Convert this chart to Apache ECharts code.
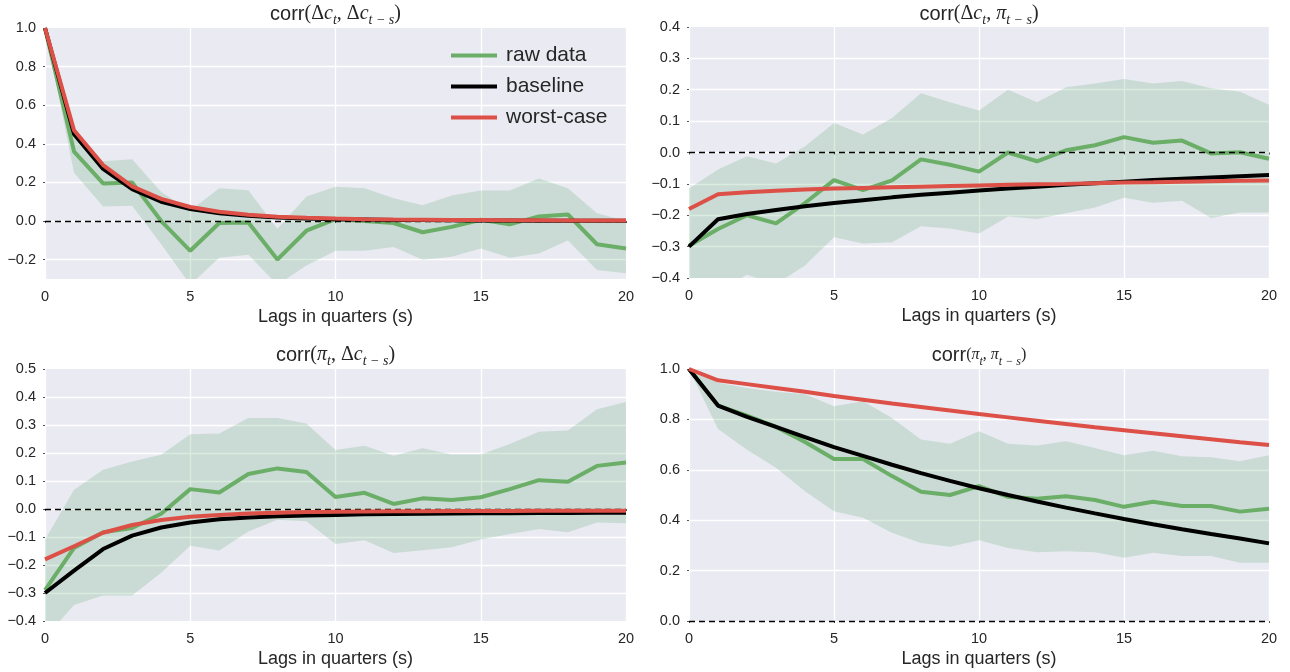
<!DOCTYPE html>
<html>
<head>
<meta charset="utf-8">
<script src="https://cdn.jsdelivr.net/npm/echarts@6/dist/echarts.min.js"></script>
<style>
html,body{margin:0;padding:0;background:#fff;}
#chart{width:1290px;height:672px;}
</style>
</head>
<body>
<div id="chart"></div>
<script>
// ---- data ----
const LAGS = [0,1,2,3,4,5,6,7,8,9,10,11,12,13,14,15,16,17,18,19,20];

// Panel 1: corr(Δc_t, Δc_{t-s})
const p1Raw   = [1.0,0.36,0.195,0.20,0.0,-0.154,-0.01,-0.007,-0.199,-0.05,0.01,0.0,-0.01,-0.058,-0.03,0.007,-0.017,0.024,0.034,-0.12,-0.142];
const p1Hi    = [1.0,0.44,0.31,0.32,0.15,0.055,0.17,0.16,-0.04,0.127,0.178,0.17,0.118,0.082,0.132,0.158,0.158,0.22,0.17,0.04,0.0];
const p1Lo    = [1.0,0.25,0.075,0.08,-0.12,-0.33,-0.19,-0.175,-0.33,-0.23,-0.154,-0.154,-0.134,-0.2,-0.185,-0.142,-0.19,-0.168,-0.1,-0.253,-0.27];
const p1Base  = [1.0,0.45,0.27,0.165,0.1,0.062,0.04,0.027,0.018,0.013,0.01,0.008,0.006,0.005,0.004,0.003,0.003,0.002,0.002,0.002,0.002];
const p1Worst = [1.0,0.47,0.29,0.18,0.115,0.073,0.048,0.033,0.023,0.017,0.013,0.01,0.008,0.007,0.006,0.005,0.004,0.004,0.003,0.003,0.003];

// Panel 2: corr(Δc_t, π_{t-s})
const p2Raw   = [-0.297,-0.244,-0.2,-0.226,-0.161,-0.088,-0.12,-0.089,-0.022,-0.039,-0.061,0.0,-0.028,0.007,0.023,0.049,0.031,0.038,-0.003,0.001,-0.02];
const p2Hi    = [-0.115,-0.054,-0.012,-0.035,0.02,0.094,0.057,0.11,0.189,0.16,0.134,0.2,0.16,0.208,0.22,0.234,0.22,0.228,0.205,0.194,0.152];
const p2Lo    = [-0.48,-0.44,-0.39,-0.42,-0.36,-0.27,-0.29,-0.286,-0.235,-0.242,-0.258,-0.204,-0.212,-0.194,-0.175,-0.144,-0.16,-0.154,-0.209,-0.191,-0.191];
const p2Base  = [-0.3,-0.213,-0.196,-0.183,-0.171,-0.161,-0.152,-0.143,-0.135,-0.128,-0.121,-0.115,-0.109,-0.103,-0.098,-0.093,-0.088,-0.084,-0.08,-0.076,-0.072];
const p2Worst = [-0.18,-0.133,-0.127,-0.122,-0.118,-0.115,-0.113,-0.111,-0.109,-0.107,-0.105,-0.103,-0.101,-0.1,-0.098,-0.096,-0.095,-0.093,-0.092,-0.09,-0.089];

// Panel 3: corr(π_t, Δc_{t-s})
const p3Raw   = [-0.29,-0.139,-0.083,-0.068,-0.017,0.071,0.059,0.125,0.145,0.132,0.043,0.058,0.018,0.038,0.032,0.042,0.071,0.103,0.097,0.154,0.166];
const p3Hi    = [-0.11,0.069,0.14,0.17,0.194,0.267,0.27,0.325,0.325,0.305,0.211,0.226,0.19,0.217,0.195,0.195,0.232,0.276,0.28,0.356,0.382];
const p3Lo    = [-0.46,-0.343,-0.309,-0.309,-0.228,-0.131,-0.148,-0.08,-0.038,-0.044,-0.125,-0.112,-0.157,-0.147,-0.137,-0.109,-0.089,-0.071,-0.083,-0.048,-0.051];
const p3Base  = [-0.3,-0.22,-0.143,-0.095,-0.066,-0.048,-0.037,-0.03,-0.026,-0.023,-0.021,-0.019,-0.018,-0.017,-0.016,-0.015,-0.015,-0.014,-0.014,-0.013,-0.013];
const p3Worst = [-0.18,-0.133,-0.085,-0.057,-0.039,-0.028,-0.021,-0.016,-0.013,-0.011,-0.01,-0.009,-0.008,-0.008,-0.007,-0.007,-0.007,-0.006,-0.006,-0.006,-0.006];

// Panel 4: corr(π_t, π_{t-s})
const p4Raw   = [1.0,0.855,0.815,0.77,0.71,0.643,0.643,0.575,0.513,0.5,0.535,0.493,0.485,0.495,0.48,0.453,0.473,0.456,0.456,0.434,0.445];
const p4Hi    = [1.0,0.945,0.925,0.91,0.9,0.852,0.872,0.806,0.72,0.703,0.753,0.703,0.696,0.713,0.687,0.658,0.676,0.654,0.65,0.634,0.658];
const p4Lo    = [1.0,0.762,0.68,0.608,0.515,0.436,0.41,0.35,0.31,0.295,0.32,0.29,0.273,0.277,0.273,0.251,0.271,0.258,0.258,0.231,0.231];
const p4Base  = [1.0,0.855,0.81,0.77,0.73,0.69,0.655,0.62,0.587,0.556,0.527,0.5,0.474,0.45,0.427,0.405,0.384,0.364,0.345,0.327,0.308];
const p4Worst = [1.0,0.955,0.94,0.925,0.91,0.893,0.878,0.863,0.849,0.835,0.821,0.808,0.795,0.782,0.769,0.757,0.745,0.733,0.721,0.709,0.698];

const SERIES_NAMES = ['raw data','baseline','worst-case'];
const X_NAME = 'Lags in quarters (s)';
const X_TICKS = {min:0, max:20, interval:5};
const Y_RANGES = [
  {min:-0.3, max:1.0, splitNumber:6},
  {min:-0.4, max:0.4, interval:0.1},
  {min:-0.4, max:0.5, interval:0.1},
  {min:0.0, max:1.0, interval:0.2}
];

// ---- styling ----
const BG = '#EAEAF2';
const GREEN = '#6BAE67';
const BLACK = '#000000';
const RED = '#DD5047';
const BAND = 'rgba(85,168,104,0.22)';
const TXT = '#262626';
const SANS = '"Liberation Sans", Arial, sans-serif';
const SERIF = '"Liberation Serif", "DejaVu Serif", serif';

const panels = [
  {raw:p1Raw, hi:p1Hi, lo:p1Lo, base:p1Base, worst:p1Worst},
  {raw:p2Raw, hi:p2Hi, lo:p2Lo, base:p2Base, worst:p2Worst},
  {raw:p3Raw, hi:p3Hi, lo:p3Lo, base:p3Base, worst:p3Worst},
  {raw:p4Raw, hi:p4Hi, lo:p4Lo, base:p4Base, worst:p4Worst}
];

const gridsPos = [
  {left:45, top:28, width:581, height:251},
  {left:689, top:27, width:580, height:251},
  {left:45, top:369, width:581, height:252},
  {left:689, top:369, width:580, height:252}
];

function fmt(v){ return v.toFixed(1).replace('-', '\u2212'); }

const grid = gridsPos.map(g => Object.assign({show:true, backgroundColor:BG, borderWidth:0, containLabel:false}, g));

const xAxis = gridsPos.map((g,i) => ({
  type:'value', gridIndex:i, min:X_TICKS.min, max:X_TICKS.max, interval:X_TICKS.interval,
  name:X_NAME, nameLocation:'middle', nameGap:29,
  nameTextStyle:{fontFamily:SANS, fontSize:18, color:TXT},
  axisLine:{show:false},
  axisTick:{show:true, length:2, lineStyle:{color:'#555', width:1}},
  axisLabel:{fontFamily:SANS, fontSize:14.5, color:TXT, margin:10},
  splitLine:{show:true, lineStyle:{color:'#ffffff', width:1.3}}
}));

const yAxis = Y_RANGES.map((r,i) => {
  const a = {
    type:'value', gridIndex:i, min:r.min, max:r.max,
    axisLine:{show:false},
    axisTick:{show:true, length:2, lineStyle:{color:'#555', width:1}},
    axisLabel:{fontFamily:SANS, fontSize:14.5, color:TXT, margin:9, formatter:fmt},
    splitLine:{show:true, showMinLine:false, showMaxLine:false, lineStyle:{color:'#ffffff', width:1.3}}
  };
  if (r.interval !== undefined) a.interval = r.interval;
  if (r.splitNumber !== undefined) { a.splitNumber = r.splitNumber; a.axisLabel.showMinLabel = false; }
  return a;
});

function pairs(arr){ return LAGS.map((x,k) => [x, arr[k]]); }

const series = [];
panels.forEach((p,i) => {
  // confidence band: polygon through hi (forward) and lo (backward), mapped with api.coord
  series.push({
    type:'custom', xAxisIndex:i, yAxisIndex:i, silent:true, clip:true, z:1,
    data:LAGS.map((x,k) => [x, p.lo[k], p.hi[k]]),
    encode:{x:0, y:[1,2]},
    renderItem:function(params, api){
      if (params.dataIndex !== 0) return null;
      const pts = [];
      for (let k = 0; k < LAGS.length; k++) pts.push(api.coord([LAGS[k], p.hi[k]]));
      for (let k = LAGS.length - 1; k >= 0; k--) pts.push(api.coord([LAGS[k], p.lo[k]]));
      const cs = params.coordSys;
      return {
        type:'polygon',
        shape:{points:pts},
        style:{fill:BAND, stroke:null},
        clipPath:{type:'rect', shape:{x:cs.x, y:cs.y, width:cs.width, height:cs.height}}
      };
    },
    markLine:{silent:true, symbol:'none', label:{show:false},
      lineStyle:{color:'#000', type:[6,4], width:1.4},
      data:[{yAxis:0}]}
  });
  series.push({name:SERIES_NAMES[0], type:'line', xAxisIndex:i, yAxisIndex:i, data:pairs(p.raw),
    symbol:'none', color:GREEN, lineStyle:{color:GREEN, width:4}, z:3});
  series.push({name:SERIES_NAMES[1], type:'line', xAxisIndex:i, yAxisIndex:i, data:pairs(p.base),
    symbol:'none', color:BLACK, lineStyle:{color:BLACK, width:4}, z:4});
  series.push({name:SERIES_NAMES[2], type:'line', xAxisIndex:i, yAxisIndex:i, data:pairs(p.worst),
    symbol:'none', color:RED, lineStyle:{color:RED, width:4}, z:5});
});

const richBase = {
  a:{fontFamily:SANS, fontSize:20, color:TXT, lineHeight:26},
  b:{fontFamily:SERIF, fontSize:20, color:TXT, lineHeight:26},
  c:{fontFamily:SERIF, fontStyle:'italic', fontSize:20, color:TXT, lineHeight:26},
  d:{fontFamily:SERIF, fontStyle:'italic', fontSize:14, color:TXT, lineHeight:14, verticalAlign:'bottom'},
  e:{fontFamily:SERIF, fontSize:16, color:TXT, lineHeight:26},
  f:{fontFamily:SERIF, fontStyle:'italic', fontSize:16, color:TXT, lineHeight:26},
  g:{fontFamily:SERIF, fontStyle:'italic', fontSize:12, color:TXT, lineHeight:12, verticalAlign:'bottom'}
};

const TITLES = [
  '{a|corr}{b|(Δ}{c|c}{d|t}{b|, Δ}{c|c}{d|t − s}{b|)}',
  '{a|corr}{b|(Δ}{c|c}{d|t}{b|, }{c|π}{d|t − s}{b|)}',
  '{a|corr}{b|(}{c|π}{d|t}{b|, Δ}{c|c}{d|t − s}{b|)}',
  '{a|corr}{e|(}{f|π}{g|t}{e|, }{f|π}{g|t − s}{e|)}'
];
const titleY = [14, 14, 355, 355];

const graphic = gridsPos.map((g,i) => ({
  type:'text',
  x: g.left + g.width/2, y: titleY[i],
  style:{text:TITLES[i], rich:richBase, align:'center', verticalAlign:'middle', fill:TXT},
  z:10
}));

const option = {
  animation:false,
  backgroundColor:'#ffffff',
  grid, xAxis, yAxis, series, graphic,
  legend:{
    data:SERIES_NAMES, left:446, top:40, orient:'vertical', selectedMode:false,
    icon:'rect', itemWidth:46, itemHeight:4, itemGap:10,
    textStyle:{fontFamily:SANS, fontSize:21, color:TXT, padding:[0,0,0,4]}
  }
};

const chart = echarts.init(document.getElementById('chart'), null, {renderer:'canvas'});
chart.setOption(option);
</script>
</body>
</html>
